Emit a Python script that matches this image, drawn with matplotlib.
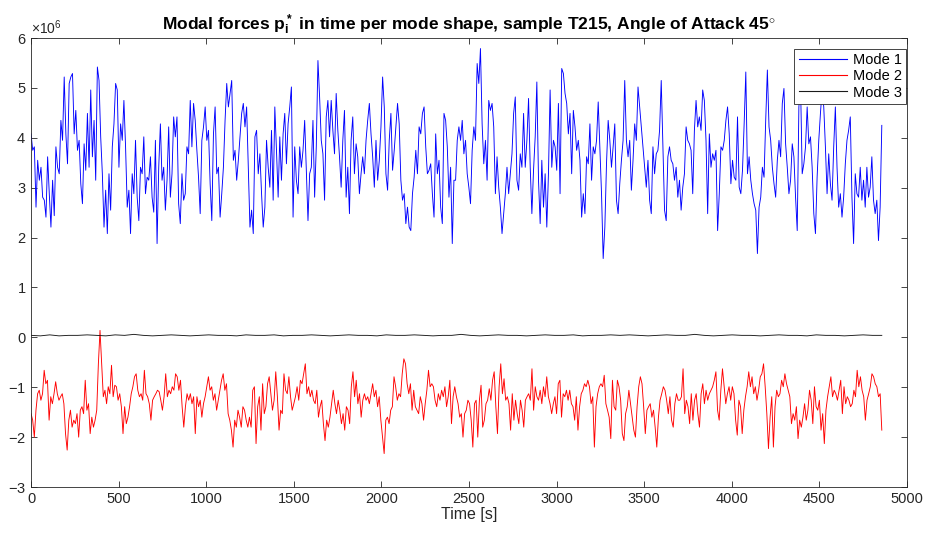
import numpy as np
import matplotlib
matplotlib.use("Agg")
import matplotlib.pyplot as plt
from matplotlib.ticker import ScalarFormatter, MultipleLocator

plt.rcParams['font.family'] = ['Liberation Sans', 'DejaVu Sans']
plt.rcParams['mathtext.fontset'] = 'custom'
plt.rcParams['mathtext.rm'] = 'Liberation Sans'
plt.rcParams['mathtext.bf'] = 'Liberation Sans:bold'
plt.rcParams['mathtext.it'] = 'Liberation Sans:italic'

# modal forces, in units of 1e6
t_end = 4856

mode1 = [
    4.08, 3.75, 3.82, 2.61, 3.55, 3.15, 3.41, 2.81, 2.75, 2.41, 3.62, 2.88, 2.21, 3.15, 2.44, 3.82,
    3.41, 3.28, 4.35, 3.95, 5.22, 4.08, 3.48, 5.09, 5.22, 5.29, 4.08, 4.55, 3.75, 3.95, 3.08, 2.68,
    3.88, 3.35, 4.49, 3.41, 4.96, 3.62, 4.35, 3.15, 5.42, 5.15, 4.02, 3.28, 2.21, 2.95, 2.08, 3.28,
    2.55, 3.82, 4.28, 5.09, 4.96, 3.41, 4.28, 3.95, 4.75, 3.82, 2.61, 2.95, 2.08, 3.28, 2.88, 3.95,
    2.81, 2.34, 3.41, 3.28, 4.02, 2.88, 3.21, 3.15, 3.62, 2.81, 2.51, 3.95, 1.88, 3.41, 4.28, 3.15,
    3.41, 2.55, 3.15, 4.22, 2.81, 3.28, 4.42, 4.02, 4.42, 2.68, 2.28, 3.28, 2.75, 2.88, 3.82, 3.68,
    4.75, 3.82, 4.69, 4.35, 3.75, 3.21, 2.48, 3.95, 4.22, 4.62, 3.95, 4.15, 3.08, 2.34, 4.08, 4.62,
    3.28, 3.41, 2.41, 2.88, 3.41, 4.35, 5.09, 4.62, 4.89, 5.15, 3.55, 3.75, 3.15, 3.55, 4.02, 4.49,
    # 1200 s onwards
    4.69, 4.22, 4.62, 3.41, 2.21, 2.55, 2.08, 4.02, 4.15, 3.28, 3.68, 2.88, 2.21, 2.61, 3.95, 3.41,
    3.01, 4.15, 2.75, 4.62, 3.75, 2.81, 4.02, 3.15, 4.08, 4.49, 3.48, 4.28, 4.62, 5.02, 2.41, 3.82,
    3.15, 2.88, 3.82, 3.41, 3.75, 4.35, 3.35, 2.34, 3.28, 3.41, 4.35, 2.81, 3.82, 5.55, 4.82, 3.95,
    3.68, 2.75, 4.42, 4.75, 4.02, 4.75, 4.15, 3.68, 4.89, 4.15, 3.62, 3.01, 3.95, 4.55, 2.81, 3.41,
    2.48, 3.95, 4.42, 3.28, 3.88, 3.62, 2.88, 3.28, 3.62, 3.28, 3.95, 4.35, 4.69, 4.08, 3.62, 3.01,
    3.95, 3.15, 3.55, 4.22, 5.22, 4.62, 3.28, 2.95, 3.95, 4.49, 3.35, 3.75, 4.22, 4.69, 4.28, 3.15,
    2.75, 2.88, 2.28, 2.61, 2.21, 2.14, 2.88, 3.21, 3.75, 3.28, 4.22, 4.08, 4.49, 4.62, 3.82, 3.28,
    3.35, 3.48, 2.88, 2.41, 4.08, 3.28, 3.55, 2.61, 2.28, 4.49, 4.35, 3.82, 2.81, 3.41, 1.88, 3.15,
    3.15, 3.95, 4.22,
    # 2450 s onwards
    3.95, 4.35, 3.68, 3.95, 3.28, 3.01, 2.68, 3.75, 4.22, 3.95, 5.49, 5.09, 5.79, 4.28, 3.48, 3.95,
    3.15, 4.75, 4.55, 4.69, 4.22, 2.88, 3.62, 3.01, 2.61, 2.08, 2.48, 2.88, 3.41, 2.88, 3.28, 3.68,
    4.49, 4.82, 3.15, 2.95, 3.68, 3.41, 4.49, 3.41, 3.95, 4.79, 3.41, 2.48, 3.35, 4.02, 5.12, 3.15,
    2.28, 3.55, 2.61, 3.28, 2.21, 3.28, 4.96, 3.41, 3.95, 3.82, 3.35, 4.69, 2.88, 5.39, 5.29, 4.89,
    4.69, 4.08, 4.49, 3.28, 4.55, 4.22, 3.75, 3.95, 3.55, 2.41, 2.88, 2.48, 3.62, 3.48, 4.28, 3.15,
    3.82, 3.68, 3.95, 4.72, 3.82, 2.88, 1.58, 2.21, 3.48, 4.35, 3.95, 3.41, 3.82, 4.28, 2.75, 2.48,
    3.08, 3.55, 3.95, 5.15, 3.95, 3.62, 3.95, 2.95, 3.55, 4.28, 3.95, 5.02, 4.62, 4.22, 3.82, 3.41,
    3.01, 3.55, 2.75, 2.48, 3.82, 3.28, 3.68, 3.75, 4.15, 5.15, 3.82, 2.55, 2.34, 3.62, 3.82, 3.55,
    # 3660 s onwards
    3.48, 3.15, 3.41, 2.81, 3.15, 2.55, 3.01, 3.28, 4.22, 3.95, 3.88, 3.75, 2.88, 4.15, 4.75, 4.22,
    4.42, 4.15, 4.96, 4.75, 3.95, 2.48, 4.08, 3.41, 3.68, 3.55, 3.75, 2.14, 2.88, 3.82, 3.75, 3.95,
    4.35, 4.62, 4.08, 3.08, 3.55, 3.21, 3.15, 4.42, 3.01, 2.88, 3.35, 4.28, 5.32, 3.28, 3.62, 3.15,
    2.88, 2.68, 2.55, 1.68, 2.61, 2.81, 3.41, 3.21, 4.35, 5.36, 4.22, 3.95, 3.41, 3.08, 2.81, 3.55,
    3.95, 3.62, 4.69, 4.99, 3.88, 3.41, 2.88, 3.15, 3.88, 3.62, 2.81, 2.14, 4.62, 5.09, 3.28, 3.48,
    3.82, 4.62, 3.88, 4.02, 3.41, 2.48, 2.08, 3.21, 3.95, 4.49, 4.96, 4.62, 3.82, 2.88, 3.68, 3.08,
    2.75, 3.82, 4.62, 3.41, 2.61, 2.88, 2.41, 2.81, 3.48, 3.95, 4.15, 4.42, 2.81, 1.88, 3.28, 2.88,
    2.81, 3.41, 2.75, 3.15, 2.61, 3.41, 2.81, 3.01, 3.62, 2.75, 2.48, 2.75, 1.94, 2.61, 4.25,
]

mode2 = [
    -1.53, -1.66, -2.00, -1.46, -1.13, -1.06, -1.26, -1.13, -0.66, -0.93, -0.86, -1.66, -1.19, -1.33, -1.13, -0.89,
    -1.13, -1.26, -1.19, -1.13, -1.33, -1.93, -2.26, -1.66, -1.46, -1.80, -1.66, -1.73, -1.53, -2.00, -1.46, -1.39,
    -1.53, -0.86, -1.46, -1.33, -1.93, -1.60, -1.80, -1.66, -1.46, -0.53, 0.14, -0.53, -1.19, -1.06, -1.33, -0.99,
    -1.13, -0.56, -1.19, -0.96, -0.99, -1.26, -1.13, -1.39, -1.93, -1.39, -1.73, -1.60, -1.39, -1.13, -0.99, -0.79,
    -0.73, -1.06, -1.19, -1.13, -1.26, -0.66, -1.13, -1.19, -1.33, -1.66, -1.26, -1.19, -1.13, -1.06, -1.09, -1.26,
    -1.46, -1.19, -0.73, -1.19, -1.06, -1.13, -0.99, -1.06, -0.73, -0.79, -1.06, -0.86, -1.39, -1.80, -1.39, -1.13,
    -1.26, -1.13, -1.33, -1.19, -1.93, -1.19, -1.39, -1.26, -1.60, -1.33, -1.19, -0.99, -0.79, -1.06, -0.99, -1.26,
    -1.13, -1.46, -1.26, -1.06, -0.86, -0.73, -1.06, -0.93, -1.53, -1.66, -1.86, -2.20, -1.66, -1.80, -1.46, -1.60,
    -1.80, -1.39,
    # 1200 s onwards
    -1.46, -1.66, -1.80, -1.60, -1.80, -1.06, -0.99, -2.13, -1.39, -1.19, -1.86, -0.93, -1.53, -1.39, -0.93, -0.79,
    -1.13, -1.46, -1.26, -0.69, -1.19, -1.86, -1.46, -1.53, -0.73, -1.06, -1.13, -0.79, -1.19, -1.46, -1.33, -1.19,
    -0.99, -1.26, -0.86, -0.93, -0.73, -0.53, -1.13, -0.99, -1.19, -1.06, -1.26, -1.33, -1.06, -1.60, -1.39, -1.26,
    -1.73, -2.07, -1.66, -1.80, -1.60, -1.33, -1.06, -1.33, -1.53, -1.26, -1.46, -1.73, -1.53, -1.86, -1.39, -1.46,
    -1.73, -0.99, -0.69, -1.19, -0.86, -1.33, -1.13, -1.60, -1.26, -1.13, -1.26, -1.19, -1.33, -1.13, -0.93, -1.19,
    -1.06, -1.39, -1.19, -1.66, -2.00, -2.33, -1.66, -1.60, -1.73, -1.46, -1.39, -0.79, -0.99, -1.26, -1.13, -1.19,
    -0.73, -0.43, -0.53, -0.93, -1.13, -0.93, -1.46, -1.06, -1.39, -1.46, -1.53, -1.19, -1.33, -1.66, -1.33, -1.06,
    -0.66, -0.99, -0.93, -0.99, -1.26, -1.39, -1.13, -1.26, -1.06, -1.19, -0.99, -1.39, -1.19, -0.86, -1.73, -1.19,
    -0.99, -1.19,
    # 2450 s onwards
    -1.33, -1.60, -1.53, -2.00, -1.53, -1.46, -1.26, -1.33, -1.66, -2.20, -1.33, -1.26, -2.00, -1.26, -0.96, -1.80,
    -1.66, -1.33, -1.26, -1.03, -1.26, -0.86, -0.69, -1.39, -1.93, -0.99, -0.53, -1.13, -0.83, -1.26, -1.19, -1.33,
    -1.86, -1.13, -1.66, -1.26, -1.53, -1.73, -1.26, -1.46, -1.80, -1.26, -1.19, -1.13, -1.26, -0.63, -1.46, -0.99,
    -1.19, -1.26, -1.06, -1.33, -0.99, -1.19, -0.79, -1.19, -1.33, -1.53, -1.33, -1.19, -1.53, -0.93, -0.86, -1.60,
    -1.13, -1.19, -1.06, -1.26, -1.06, -1.33, -1.39, -1.66, -1.19, -1.86, -1.39, -1.13, -1.06, -0.93, -0.99, -0.86,
    -0.99, -1.33, -1.19, -2.20, -1.39, -1.13, -0.99, -0.93, -0.99, -0.76, -1.33, -1.46, -1.60, -2.03, -0.86, -1.39,
    -1.46, -0.86, -0.99, -1.26, -1.93, -2.07, -1.53, -1.39, -1.06, -1.33, -1.60, -1.86, -2.00, -1.39, -0.99, -0.79,
    -0.93, -1.39, -1.93, -1.46, -1.39, -1.33, -1.60, -1.46, -1.80, -2.20, -1.60, -1.26, -1.13, -0.99, -1.06, -1.26,
    -1.53,
    # 3660 s onwards
    -1.19, -1.66, -1.80, -1.33, -1.13, -1.26, -1.26, -1.19, -0.63, -1.53, -1.26, -1.39, -1.73, -1.13, -1.66, -1.26,
    -1.13, -1.53, -1.80, -1.13, -0.93, -1.33, -1.06, -1.26, -1.13, -1.06, -0.99, -0.86, -0.69, -1.46, -1.66, -1.06,
    -0.63, -0.99, -1.33, -1.13, -0.99, -1.26, -0.99, -1.13, -1.66, -1.96, -1.26, -1.39, -1.93, -1.46, -1.19, -0.99,
    -0.69, -0.99, -0.79, -1.13, -0.99, -1.26, -1.06, -0.79, -0.73, -0.53, -0.99, -1.53, -2.23, -1.60, -1.19, -2.20,
    -1.39, -1.06, -1.19, -1.13, -0.86, -0.99, -0.73, -0.93, -1.06, -1.19, -1.73, -1.53, -1.66, -1.39, -2.03, -1.66,
    -1.80, -1.60, -1.33, -1.66, -1.46, -1.06, -1.26, -1.73, -0.99, -1.39, -1.46, -1.26, -1.86, -1.53, -2.13, -1.46,
    -1.19, -0.99, -0.79, -1.19, -1.06, -1.13, -1.26, -1.06, -0.86, -1.53, -0.99, -1.33, -1.19, -1.26, -1.39, -1.33,
    -1.06, -1.19, -0.66, -0.99, -0.79, -1.06, -1.19, -1.66, -1.26, -1.13, -0.99, -0.73, -0.79, -0.93, -0.99, -1.19,
    -1.13, -1.86,
]

mode3 = [
    0.04, 0.03, 0.05, 0.03, 0.04, 0.04, 0.05, 0.04, 0.03, 0.05, 0.04, 0.06, 0.04, 0.03, 0.04, 0.05,
    0.04, 0.03, 0.04, 0.05, 0.04, 0.04, 0.03, 0.05, 0.04, 0.04, 0.05, 0.03, 0.04, 0.04, 0.05, 0.04,
    0.03, 0.04, 0.05, 0.04, 0.04, 0.03, 0.05, 0.04, 0.04, 0.05, 0.04, 0.03, 0.04, 0.04, 0.06, 0.04,
    0.03, 0.04, 0.05, 0.04, 0.04, 0.03, 0.04, 0.05, 0.04, 0.04, 0.05, 0.03, 0.04, 0.04, 0.05, 0.04,
    0.05, 0.04, 0.03, 0.04, 0.05, 0.04, 0.04, 0.06, 0.04, 0.03, 0.04, 0.05, 0.04, 0.04, 0.03, 0.04,
    0.05, 0.04, 0.04, 0.03, 0.05, 0.04, 0.04, 0.03, 0.04, 0.05, 0.04, 0.04,
]

series = [("Mode 1", mode1, "#0000ff"), ("Mode 2", mode2, "#ff0000"), ("Mode 3", mode3, "#1a1a1a")]

fig = plt.figure(figsize=(9.32, 5.37), dpi=100)
ax = fig.add_axes([0.0333, 0.0931, 0.9399, 0.8360])

for name, vals, col in series:
    y = np.array(vals) * 1e6
    t = np.linspace(0, t_end, len(y))
    ax.plot(t, y, color=col, lw=0.65, label=name)

ax.set_xlim(0, 5000)
ax.set_ylim(-3e6, 6e6)
ax.xaxis.set_major_locator(MultipleLocator(500))
ax.yaxis.set_major_locator(MultipleLocator(1e6))
fmt = ScalarFormatter(useMathText=True)
fmt.set_powerlimits((0, 0))
ax.yaxis.set_major_formatter(fmt)

axcol = "#262626"
for sp in ax.spines.values():
    sp.set_color(axcol)
    sp.set_linewidth(0.6)
ax.tick_params(direction="in", top=True, right=True, length=4, width=0.6,
               colors=axcol, labelsize=10.5)
ax.yaxis.get_offset_text().set_fontsize(10)
ax.yaxis.get_offset_text().set_color(axcol)

ax.set_xlabel("Time [s]", fontsize=11.5, color=axcol, labelpad=1)
ax.set_title(r"Modal forces $\mathbf{p_i^*}$ in time per mode shape, sample T215, Angle of Attack 45$^{\circ}$",
             fontsize=12.5, fontweight="bold", pad=6)

leg = ax.legend(loc="upper right", bbox_to_anchor=(0.999, 0.976), fontsize=10.5,
                fancybox=False, framealpha=1, edgecolor="#262626", borderaxespad=0,
                handlelength=3.3, borderpad=0.3, labelspacing=0.15, handletextpad=0.4)
leg.get_frame().set_linewidth(0.6)
for ln in leg.get_lines():
    ln.set_linewidth(0.8)

fig.savefig("out.png", dpi=100)
